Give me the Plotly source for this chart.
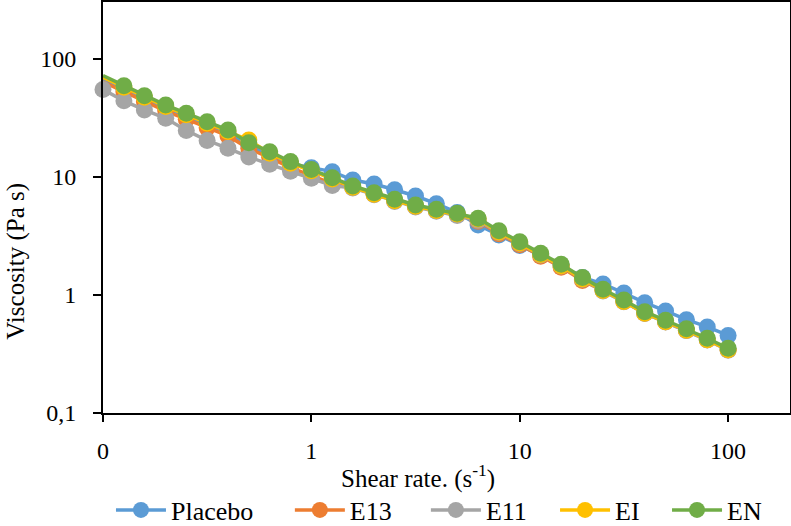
import plotly.graph_objects as go

shear_rate = [0.1, 0.126, 0.158, 0.2, 0.251, 0.316, 0.398, 0.501, 0.631, 0.794,
              1, 1.26, 1.58, 2, 2.51, 3.16, 3.98, 5.01, 6.31, 7.94,
              10, 12.6, 15.8, 20, 25.1, 31.6, 39.8, 50.1, 63.1, 79.4, 100]

placebo = [67, 56.0, 46.1, 38.4, 32.7, 27.7, 23.9, 18.4, 15.4, 12.9,
           12.0, 11.1, 9.43, 8.73, 7.80, 6.90, 5.94, 5.00, 3.92, 3.22,
           2.63, 2.18, 1.78, 1.41, 1.24, 1.04, 0.861, 0.732, 0.618, 0.536, 0.454]
e13 = [64, 52.9, 43.5, 36.2, 30.9, 26.2, 22.3, 17.4, 14.6, 12.0,
       10.3, 8.8, 8.15, 7.15, 6.28, 5.62, 5.18, 4.78, 4.22, 3.31,
       2.67, 2.13, 1.72, 1.33, 1.09, 0.88, 0.70, 0.593, 0.502, 0.418, 0.343]
e11 = [55.2, 44.2, 37.0, 31.4, 24.8, 20.4, 17.5, 14.8, 12.8, 11.2,
       9.75, 8.47, 8.05, 7.07, 6.21, 5.56, 5.12, 4.72, 4.29, 3.39,
       2.73, 2.18, 1.76, 1.36, 1.08, 0.875, 0.697, 0.59, 0.499, 0.415, 0.34]
ei = [70, 57.7, 47.5, 39.5, 33.7, 28.6, 24.3, 20.6, 15.9, 13.1,
      11.3, 9.6, 8.2, 7.15, 6.3, 5.65, 5.2, 4.85, 4.4, 3.42,
      2.76, 2.2, 1.77, 1.37, 1.09, 0.88, 0.70, 0.594, 0.503, 0.418, 0.343]
en = [72.2, 59.4, 48.9, 40.7, 34.7, 29.4, 25.0, 19.5, 16.4, 13.5,
      11.6, 9.86, 8.39, 7.36, 6.47, 5.79, 5.33, 4.92, 4.47, 3.51,
      2.83, 2.26, 1.82, 1.41, 1.12, 0.907, 0.722, 0.611, 0.517, 0.430, 0.353]

series_names = ["Placebo", "E13", "E11", "EI", "EN"]
series_values = [placebo, e13, e11, ei, en]
colors = ["#5B9BD5", "#ED7D31", "#A5A5A5", "#FFC000", "#70AD47"]

x_tickvals = [0.1, 1, 10, 100]
x_ticktext = ["0", "1", "10", "100"]
y_tickvals = [0.1, 1, 10, 100]
y_ticktext = ["0,1", "1", "10", "100"]

FONT = "Liberation Serif"

# one legend per series so each entry sits where the reference has it
legend_ids = ["legend", "legend2", "legend3", "legend4", "legend5"]
legend_x = [0.0116, 0.272, 0.470, 0.658, 0.821]

fig = go.Figure()
for name, vals, col, lid in zip(series_names, series_values, colors, legend_ids):
    n = len(vals)
    if name == "E11":
        sizes = [17] * n
    else:
        sizes = [0] + [17] * (n - 1)
    fig.add_trace(go.Scatter(
        x=shear_rate, y=vals, name=name, mode="lines+markers",
        line=dict(color=col, width=3.5),
        marker=dict(color=col, size=sizes, opacity=1, line=dict(width=0)),
        opacity=1, cliponaxis=False, legend=lid,
    ))

legend_common = dict(orientation="h", xanchor="left", y=-0.236, yanchor="middle",
                     font=dict(family=FONT, size=26, color="black"),
                     itemwidth=50, bgcolor="rgba(0,0,0,0)", borderwidth=0)

layout_legends = {}
for lid, lx in zip(legend_ids, legend_x):
    layout_legends[lid] = dict(x=lx, **legend_common)

fig.update_layout(
    width=791, height=526,
    margin=dict(l=103, r=1, t=2, b=113, autoexpand=False),
    paper_bgcolor="white", plot_bgcolor="white",
    font=dict(family=FONT, size=23, color="black"),
    showlegend=True,
    xaxis=dict(type="log", range=[-1, 2.297], tickvals=x_tickvals, ticktext=x_ticktext,
               ticks="outside", ticklen=7, tickwidth=1.5, tickcolor="black",
               showline=True, linecolor="black", linewidth=2, mirror=True,
               showgrid=False, zeroline=False, ticklabelstandoff=8,
               tickfont=dict(family=FONT, size=24, color="black")),
    yaxis=dict(type="log", range=[-1, 2.483], tickvals=y_tickvals, ticktext=y_ticktext,
               ticks="outside", ticklen=8, tickwidth=1.5, tickcolor="black",
               showline=True, linecolor="black", linewidth=2, mirror=True,
               showgrid=False, zeroline=False, ticklabelstandoff=12,
               tickfont=dict(family=FONT, size=24, color="black")),
    annotations=[
        dict(text="Shear rate. (s<sup>-1</sup>)", xref="paper", yref="paper",
             x=0.4585, y=-0.1557, xanchor="center", yanchor="middle", showarrow=False,
             font=dict(family=FONT, size=25, color="black")),
        dict(text="Viscosity (Pa s)", xref="paper", yref="paper", textangle=-90,
             x=-0.127, y=0.37, xanchor="center", yanchor="middle", showarrow=False,
             font=dict(family=FONT, size=25, color="black")),
    ],
    **layout_legends,
)

fig.write_html("out.html")
